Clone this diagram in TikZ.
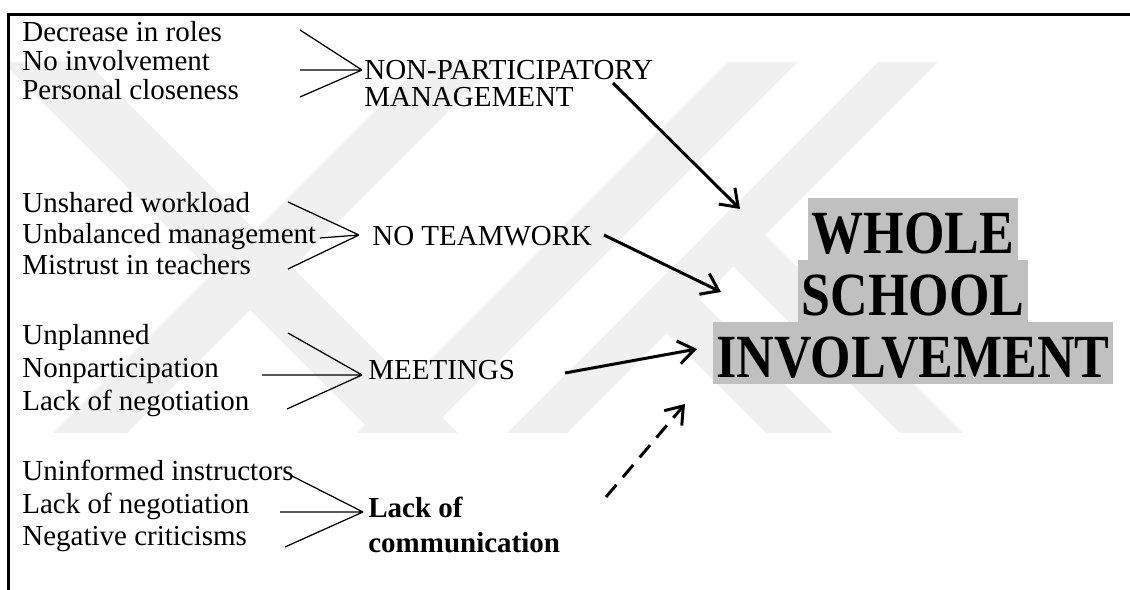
\documentclass[tikz,border=0pt]{standalone}
\usepackage{fontspec}
\setmainfont{Liberation Serif}
\usetikzlibrary{arrows.meta}
\definecolor{boxgray}{HTML}{C0C0C0}
\definecolor{wmgray}{HTML}{F0F0F0}
\newcommand{\tallword}[1]{\scalebox{1}[1.18]{#1}}
\tikzset{
  lbl/.style={anchor=base west, inner sep=0pt, text height=0.4cm, text depth=0.1cm,
    font=\fontsize{16.5}{20}\selectfont},
  boldlbl/.style={lbl, font=\fontsize{16.5}{20}\selectfont\bfseries},
  ln/.style={line width=0.7pt},
  big/.style={anchor=base, fill=boxgray, inner xsep=0.07cm, inner ysep=0pt,
    text height=1.12cm, text depth=0.12cm, font=\fontsize{29.6}{30}\selectfont\bfseries},
  arr/.style={line width=1.7pt, -{Straight Barb[length=0.32cm, width=0.46cm]}},
  dasharr/.style={arr, dash pattern=on 0.32cm off 0.2cm},
  wm/.style={fill=wmgray},
}
\begin{document}
\begin{tikzpicture}[x=0.02cm,y=-0.02cm]
\useasboundingbox (0,0) rectangle (1130,590);
% faint watermark (diagonal bands)
\begin{scope}
\clip (10,62) rectangle (1000,433);
\fill[wm] (2,62) -- (87,62) -- (458,433) -- (373,433) -- cycle;
\fill[wm] (424,62) -- (498,62) -- (127,433) -- (53,433) -- cycle;
\fill[wm] (728,62) -- (798,62) -- (427,433) -- (357,433) -- cycle;
\fill[wm] (878,62) -- (938,62) -- (567,433) -- (507,433) -- cycle;
\fill[wm] (703.5,236.5) -- (735,205) -- (963,433) -- (900,433) -- cycle;
\fill[wm] (636.5,303.5) -- (670,270) -- (833,433) -- (766,433) -- cycle;
\end{scope}
% frame
\draw[line width=1.4pt] (8.7,590) -- (8.7,14.5) -- (1130,14.5);

% group 1
\node[lbl] (a1) at (22,42) {Decrease in roles};
\node[lbl] (a2) at (22,71) {No involvement};
\node[lbl] (a3) at (22,100) {Personal closeness};
\node[lbl] (npm1) at (364,80) {NON-PARTICIPATORY};
\node[lbl] (npm2) at (364,107) {MANAGEMENT};
\coordinate (t1) at (362,70);
\coordinate (s1a) at (300,30);
\coordinate (s1b) at (300,70);
\coordinate (s1c) at (300,97);
\draw[ln] (s1a) -- (t1) (s1b) -- (t1) (s1c) -- (t1);

% group 2
\node[lbl] (b1) at (22,213) {Unshared workload};
\node[lbl] (b2) at (22,244) {Unbalanced management};
\node[lbl] (b3) at (22,275) {Mistrust in teachers};
\node[lbl] (ntw) at (372,246) {NO TEAMWORK};
\coordinate (t2) at (359,235);
\coordinate (s2a) at (288,202);
\coordinate (s2b) at (320,238);
\coordinate (s2c) at (288,269);
\draw[ln] (s2a) -- (t2) (s2b) -- (t2) (s2c) -- (t2);

% group 3
\node[lbl] (c1) at (22,345) {Unplanned};
\node[lbl] (c2) at (22,378) {Nonparticipation};
\node[lbl] (c3) at (22,411) {Lack of negotiation};
\node[lbl] (mtg) at (368,380) {MEETINGS};
\coordinate (t3) at (362,375);
\coordinate (s3a) at (288,333);
\coordinate (s3b) at (262,375);
\coordinate (s3c) at (287,409);
\draw[ln] (s3a) -- (t3) (s3b) -- (t3) (s3c) -- (t3);

% group 4
\node[lbl] (d1) at (22,481) {Uninformed instructors};
\node[lbl] (d2) at (22,514) {Lack of negotiation};
\node[lbl] (d3) at (22,546) {Negative criticisms};
\node[boldlbl] (loc1) at (368,518) {Lack of};
\node[boldlbl] (loc2) at (368,553) {communication};
\coordinate (t4) at (363,512);
\coordinate (s4a) at (290,475);
\coordinate (s4b) at (280,512);
\coordinate (s4c) at (285,547);
\draw[ln] (s4a) -- (t4) (s4b) -- (t4) (s4c) -- (t4);

% target
\node[big] (w1) at (913,254) {\tallword{WHOLE}};
\node[big] (w2) at (913,316) {\tallword{SCHOOL}};
\node[big] (w3) at (913,378) {\tallword{INVOLVEMENT}};

% arrows
\coordinate (e1) at (613,83);
\coordinate (h1) at (740,209);
\coordinate (e2) at (604,235);
\coordinate (h2) at (721,292);
\coordinate (e3) at (565,373);
\coordinate (h3) at (697,349);
\coordinate (e4) at (606,497);
\coordinate (h4) at (685,404);
\draw[arr] (e1) -- (h1);
\draw[arr] (e2) -- (h2);
\draw[arr] (e3) -- (h3);
\draw[dasharr] (e4) -- (h4);
\end{tikzpicture}
\end{document}
